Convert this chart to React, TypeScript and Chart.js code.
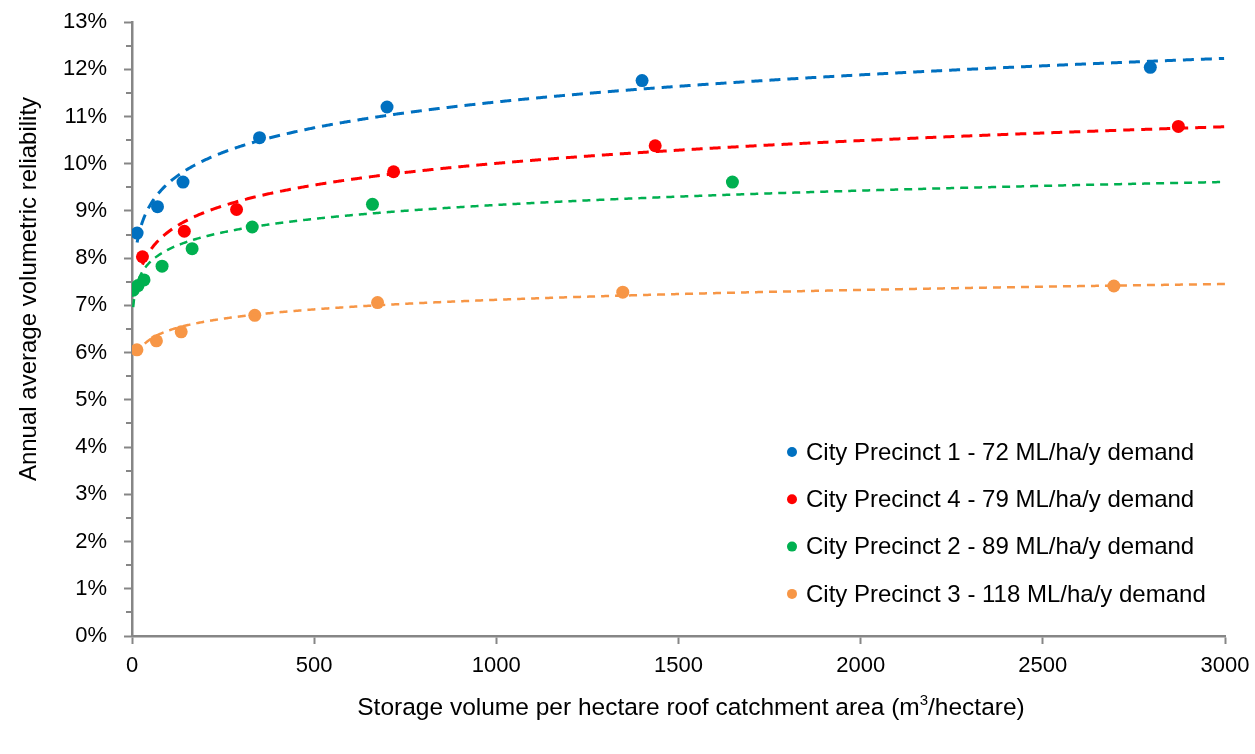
import React, { useEffect, useRef } from 'react';
import { Chart, registerables } from 'chart.js';

Chart.register(...registerables);

const FONT = '"Liberation Sans", Arial, sans-serif';

// Scatter values (x: m3/hectare, y: %)
const blueX = [14, 70, 140, 350, 700, 1400, 2795];
const blueY = [8.53, 9.09, 9.61, 10.55, 11.2, 11.76, 12.04];
const redX = [28.7, 143.6, 287, 718, 1436, 2872];
const redY = [8.03, 8.57, 9.03, 9.83, 10.38, 10.79];
const greenX = [3.3, 16.5, 33, 82.5, 165, 330, 660, 1648];
const greenY = [7.32, 7.42, 7.54, 7.83, 8.2, 8.66, 9.14, 9.61];
const orangeX = [13.5, 67, 135, 337, 674, 1347, 2695];
const orangeY = [6.06, 6.25, 6.44, 6.79, 7.06, 7.28, 7.41];

const seriesNames = [
  'City Precinct 1 - 72 ML/ha/y demand',
  'City Precinct 4 - 79 ML/ha/y demand',
  'City Precinct 2 - 89 ML/ha/y demand',
  'City Precinct 3 - 118 ML/ha/y demand',
];
const seriesColors = ['#0070C0', '#FF0000', '#00B050', '#F79646'];
const trendWidths = [3, 3, 2.5, 2.5];
const trendDashes = [[11, 7], [11, 7], [8, 6], [8, 6]];

const xTitle = 'Storage volume per hectare roof catchment area (m';
const xTitleSup = '3';
const xTitleEnd = '/hectare)';
const yTitle = 'Annual average volumetric reliability';

const X_MIN = 0;
const X_MAX = 3000;
const Y_MIN = 0;
const Y_MAX = 13;

function toPoints(xs: number[], ys: number[]) {
  return xs.map((x, i) => ({ x, y: ys[i] }));
}

// Power least-squares trendline (spreadsheet "power" trendline) fitted to the data
function powerFit(xs: number[], ys: number[]) {
  const n = xs.length;
  const lx = xs.map((x) => Math.log(x));
  const ly = ys.map((y) => Math.log(y));
  const mx = lx.reduce((a, b) => a + b, 0) / n;
  const my = ly.reduce((a, b) => a + b, 0) / n;
  let sxy = 0;
  let sxx = 0;
  for (let i = 0; i < n; i++) {
    sxy += (lx[i] - mx) * (ly[i] - my);
    sxx += (lx[i] - mx) * (lx[i] - mx);
  }
  const k = sxy / sxx;
  const lc = my - k * mx;
  return (x: number) => Math.exp(lc + k * Math.log(x));
}

const allX = [blueX, redX, greenX, orangeX];
const allY = [blueY, redY, greenY, orangeY];

const trendPlugin = {
  id: 'trendlines',
  afterDatasetsDraw(chart: any) {
    const { ctx, chartArea, scales } = chart;
    const xs = scales.x;
    const ys = scales.y;
    ctx.save();
    ctx.beginPath();
    ctx.rect(chartArea.left, chartArea.top, chartArea.right - chartArea.left, chartArea.bottom - chartArea.top);
    ctx.clip();
    for (let s = 0; s < allX.length; s++) {
      const f = powerFit(allX[s], allY[s]);
      const x0 = Math.min(...allX[s]);
      const p0 = xs.getPixelForValue(x0);
      const p1 = xs.getPixelForValue(X_MAX);
      ctx.beginPath();
      ctx.strokeStyle = seriesColors[s];
      ctx.lineWidth = trendWidths[s];
      ctx.setLineDash(trendDashes[s]);
      ctx.lineCap = 'butt';
      let first = true;
      for (let px = p0; px <= p1 + 0.01; px += 1) {
        const v = xs.getValueForPixel(px);
        const xv = Math.max(v, x0);
        const py = ys.getPixelForValue(f(xv));
        if (first) {
          ctx.moveTo(px, py);
          first = false;
        } else {
          ctx.lineTo(px, py);
        }
      }
      ctx.stroke();
    }
    ctx.restore();
  },
};

const decorPlugin = {
  id: 'decor',
  afterDraw(chart: any) {
    const { ctx, chartArea, scales } = chart;
    const ys = scales.y;
    ctx.save();
    // minor ticks on y axis
    ctx.strokeStyle = '#868686';
    ctx.lineWidth = 2;
    ctx.setLineDash([]);
    for (let v = Y_MIN + 0.5; v < Y_MAX; v += 1) {
      const py = Math.round(ys.getPixelForValue(v));
      ctx.beginPath();
      ctx.moveTo(chartArea.left - 6, py);
      ctx.lineTo(chartArea.left, py);
      ctx.stroke();
    }

    // axis titles
    ctx.fillStyle = '#000';
    const big = `24.5px ${FONT}`;
    const small = `15px ${FONT}`;
    ctx.font = big;
    ctx.textBaseline = 'middle';
    const w1 = ctx.measureText(xTitle).width;
    ctx.font = small;
    const w2 = ctx.measureText(xTitleSup).width;
    ctx.font = big;
    const w3 = ctx.measureText(xTitleEnd).width;
    const total = w1 + w2 + w3;
    const cx = chartArea.left + 559;
    const ty = chartArea.bottom + 72;
    let sx = cx - total / 2;
    ctx.textAlign = 'left';
    ctx.fillText(xTitle, sx, ty);
    sx += w1;
    ctx.font = small;
    ctx.fillText(xTitleSup, sx, ty - 7);
    sx += w2;
    ctx.font = big;
    ctx.fillText(xTitleEnd, sx, ty);

    // y title
    ctx.save();
    ctx.translate(29, chartArea.top + 267);
    ctx.rotate(-Math.PI / 2);
    ctx.textAlign = 'center';
    ctx.font = `24px ${FONT}`;
    ctx.fillText(yTitle, 0, 0);
    ctx.restore();

    // legend
    ctx.font = `24px ${FONT}`;
    ctx.textAlign = 'left';
    const lx = chartArea.left + 674;
    const ly0 = chartArea.top + 430;
    for (let i = 0; i < seriesNames.length; i++) {
      const yy = ly0 + i * 47.3;
      ctx.beginPath();
      ctx.fillStyle = seriesColors[i];
      ctx.arc(lx - 14, yy, 5, 0, Math.PI * 2);
      ctx.fill();
      ctx.fillStyle = '#000';
      ctx.fillText(seriesNames[i], lx, yy + 1);
    }
    ctx.restore();
  },
};

export default function App() {
  const ref = useRef<HTMLCanvasElement | null>(null);

  useEffect(() => {
    if (!ref.current) return;
    const datasets = allX.map((xs, i) => ({
      label: seriesNames[i],
      data: toPoints(xs, allY[i]),
      backgroundColor: seriesColors[i],
      borderColor: seriesColors[i],
      borderWidth: 0,
      pointRadius: 6.5,
      pointStyle: 'circle',
      showLine: false,
    }));
    const chart = new Chart(ref.current, {
      type: 'scatter',
      data: { datasets },
      options: {
        animation: false,
        responsive: false,
        maintainAspectRatio: false,
        layout: { padding: { top: 22, right: 30, left: 0, bottom: 0 } },
        plugins: {
          legend: { display: false },
          tooltip: { enabled: false },
          title: { display: false },
        },
        scales: {
          x: {
            type: 'linear',
            min: X_MIN,
            max: X_MAX,
            ticks: {
              stepSize: 500,
              color: '#000',
              font: { family: FONT, size: 22 },
              padding: 9,
              maxRotation: 0,
              callback: (v: any) => String(v),
            },
            grid: {
              drawOnChartArea: false,
              drawTicks: true,
              tickLength: 8,
              tickWidth: 2,
              tickColor: '#868686',
            },
            border: { color: '#868686', width: 2.5 },
            afterFit(scale: any) {
              scale.height = 118;
              scale.paddingLeft = 0;
              scale.paddingRight = 0;
            },
          },
          y: {
            type: 'linear',
            min: Y_MIN,
            max: Y_MAX,
            ticks: {
              stepSize: 1,
              color: '#000',
              font: { family: FONT, size: 22 },
              padding: 17,
              callback: (v: any) => `${v}%`,
            },
            grid: {
              drawOnChartArea: false,
              drawTicks: true,
              tickLength: 8,
              tickWidth: 2,
              tickColor: '#868686',
            },
            border: { color: '#868686', width: 2.5 },
            afterFit(scale: any) {
              scale.width = 132;
              scale.paddingTop = 0;
              scale.paddingBottom = 0;
            },
          },
        },
      },
      plugins: [trendPlugin, decorPlugin],
    } as any);
    return () => chart.destroy();
  }, []);

  return (
    <div style={{ position: 'fixed', left: 0, top: 0, width: 1255, height: 754, background: '#fff' }}>
      <canvas ref={ref} width={1255} height={754} style={{ width: 1255, height: 754, display: 'block' }} />
    </div>
  );
}
